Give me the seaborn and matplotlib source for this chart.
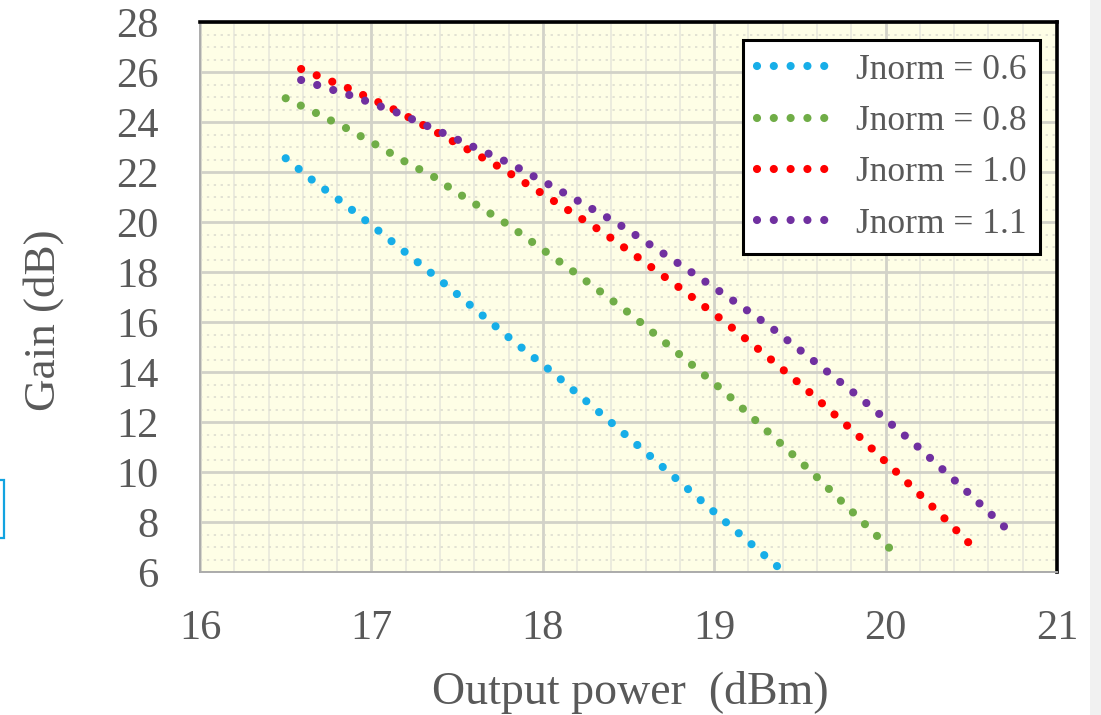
import numpy as np
import pandas as pd
import matplotlib
matplotlib.use("Agg")
import matplotlib.pyplot as plt
from matplotlib.lines import Line2D
from matplotlib.patches import Rectangle
from matplotlib.ticker import MultipleLocator
import seaborn as sns

# ---------------- data ----------------
labels = ["Jnorm = 0.6", "Jnorm = 0.8", "Jnorm = 1.0", "Jnorm = 1.1"]

power_06 = [16.50, 16.66, 16.82, 17.00, 17.45, 17.82, 18.06, 18.36, 18.66, 19.05, 19.41, 19.48]
gain_06 = [22.55, 21.65, 20.84, 19.88, 17.40, 15.28, 13.97, 12.21, 10.44, 8.10, 5.98, 5.55]

power_08 = [16.50, 16.68, 16.86, 17.03, 17.20, 17.38, 17.46, 17.80, 18.20, 18.52, 18.83, 19.06, 19.57, 19.85, 20.07]
gain_08 = [24.95, 24.35, 23.73, 23.08, 22.40, 21.75, 21.35, 19.88, 17.91, 16.27, 14.52, 13.21, 9.99, 8.11, 6.64]

power_10 = [16.59, 16.88, 17.15, 17.41, 17.76, 18.01, 18.35, 18.51, 18.83, 19.07, 19.30, 19.53, 19.83, 20.04, 20.33, 20.54]
gain_10 = [26.12, 25.31, 24.44, 23.48, 22.15, 21.08, 19.59, 18.81, 17.21, 15.96, 14.68, 13.35, 11.52, 10.15, 8.24, 6.79]

power_11 = [16.59, 16.89, 17.16, 17.43, 17.80, 18.06, 18.41, 18.49, 18.82, 19.07, 19.32, 19.55, 19.86, 20.17, 20.46, 20.75]
gain_11 = [25.68, 25.04, 24.35, 23.52, 22.37, 21.41, 20.05, 19.71, 18.21, 17.05, 15.85, 14.61, 12.92, 11.12, 9.31, 7.44]

x_ticks = [16, 17, 18, 19, 20, 21]
y_ticks = [6, 8, 10, 12, 14, 16, 18, 20, 22, 24, 26, 28]

colors = ["#17AEE8", "#70AD47", "#FF0000", "#7030A0"]
x_label = "Output power  (dBm)"
y_label = "Gain (dB)"

# ---------------- build a long table ----------------
frames = []
for lab, px, gy in zip(labels, [power_06, power_08, power_10, power_11],
                       [gain_06, gain_08, gain_10, gain_11]):
    frames.append(pd.DataFrame({"power": px, "gain": gy, "series": lab}))
df = pd.concat(frames, ignore_index=True)

# ---------------- style ----------------
sns.set_theme(style="white")
plt.rcParams["font.family"] = ["Liberation Serif", "DejaVu Serif"]
text_color = "#595959"

W, H = 1101, 715
fig = plt.figure(figsize=(W / 100, H / 100), dpi=100)
fig.patch.set_facecolor("white")
ax = fig.add_axes([200 / W, 1 - 572 / H, 857 / W, 550 / H])
ax.set_facecolor("#FEFEE6")

LW = 5.9
dot_style = (0, (0.001, 2.05))
sns.lineplot(data=df, x="power", y="gain", hue="series", hue_order=labels,
             palette=colors, sort=False, estimator=None, legend=False,
             linewidth=LW, ax=ax)
for ln in ax.lines:
    ln.set_linewidth(LW)
    ln.set_linestyle(dot_style)
    ln.set_dash_capstyle("round")
    ln.set_clip_on(True)

ax.set_xlim(16, 21)
ax.set_ylim(6, 28)
ax.set_xticks(x_ticks)
ax.set_yticks(y_ticks)
ax.xaxis.set_minor_locator(MultipleLocator(0.2))
ax.yaxis.set_minor_locator(MultipleLocator(0.5))
ax.set_axisbelow(True)
ax.grid(which="major", color="#D2D2C8", linewidth=2.0)
ax.grid(which="minor", axis="x", color="#E8E8DC", linewidth=1.2)
ax.grid(which="minor", axis="y", color="#DADACE", linewidth=1.1, linestyle=(0, (1.5, 3)))
ax.tick_params(which="both", length=0)
ax.tick_params(axis="y", pad=30, labelsize=30.5, labelcolor=text_color)
ax.tick_params(axis="x", pad=27, labelsize=30.5, labelcolor=text_color)

for side in ["top", "right"]:
    ax.spines[side].set_color("black")
    ax.spines[side].set_linewidth(2.6)
for side in ["left", "bottom"]:
    ax.spines[side].set_color("#ABABAB")
    ax.spines[side].set_linewidth(1.4)

ax.set_xlabel(x_label, fontsize=33, color=text_color)
ax.set_ylabel(y_label, fontsize=32.5, color=text_color)
ax.xaxis.set_label_coords(0.502, -0.18)
ax.yaxis.set_label_coords(-0.159, 0.458)

handles = [Line2D([], [], color=c, linewidth=LW, linestyle=dot_style,
                  dash_capstyle="round") for c in colors]
leg = ax.legend(handles, labels, loc="upper right", bbox_to_anchor=(0.980, 0.967),
                fontsize=25.5, frameon=True, fancybox=False, edgecolor="black",
                framealpha=1, facecolor="white", handlelength=2.3,
                handletextpad=0.5, labelspacing=0.52, borderpad=0.38, borderaxespad=0)
leg.get_frame().set_linewidth(2.2)
for t in leg.get_texts():
    t.set_color(text_color)

# screenshot artefacts: grey strip on the right, cyan box edge on the left
fig.patches.append(Rectangle((1090 / W, 0), 11 / W, 1, transform=fig.transFigure,
                             facecolor="#F1F1F1", edgecolor="none", zorder=-1))
fig.patches.append(Rectangle((-10 / W, 1 - 538 / H), 14 / W, 58 / H,
                             transform=fig.transFigure, facecolor="none",
                             edgecolor="#12A3E0", linewidth=1.6))

fig.savefig("out.png", dpi=100)
